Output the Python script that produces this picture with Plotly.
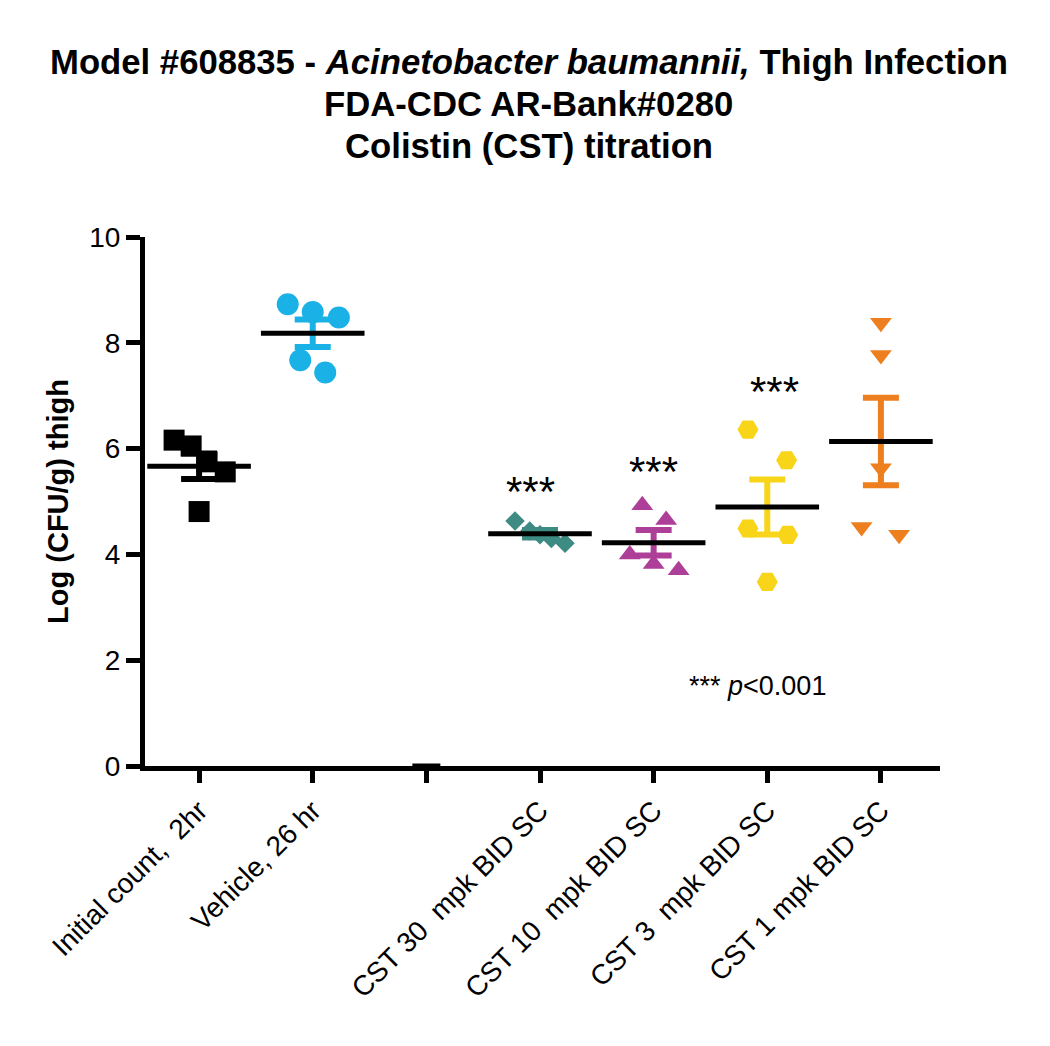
import numpy as np
import plotly.graph_objects as go

# Grupos (el tercero es una columna vacía en el gráfico original)
groups = ["Initial count,\u00a0\u00a02hr", "Vehicle, 26 hr", "",
          "CST 30\u00a0\u00a0mpk BID SC", "CST 10\u00a0\u00a0mpk BID SC",
          "CST 3\u00a0\u00a0mpk BID SC", "CST 1 mpk BID SC"]

initial_2hr = [6.16, 6.05, 5.75, 5.56, 4.81]
vehicle_26hr = [8.73, 8.58, 8.48, 7.67, 7.44]
cst_30 = [4.63, 4.44, 4.37, 4.30, 4.21]
cst_10 = [4.93, 4.65, 4.00, 3.82, 3.70]
cst_3 = [6.36, 5.78, 4.49, 4.37, 3.48]
cst_1 = [8.38, 7.77, 5.63, 4.52, 4.37]
empty_group = [0.0]

title_lines = ["<b>Model #608835 - <i>Acinetobacter baumannii,</i> Thigh Infection</b>",
               "<b>FDA-CDC AR-Bank#0280</b>",
               "<b>Colistin (CST) titration</b>"]

# dispersión horizontal de los puntos (en unidades de columna)
spread = {
    0: [-0.22, -0.07, 0.07, 0.23, 0.0],
    1: [-0.22, 0.0, 0.23, -0.11, 0.11],
    3: [-0.22, -0.09, 0.0, 0.10, 0.22],
    4: [-0.10, 0.11, -0.21, 0.0, 0.22],
    5: [-0.17, 0.17, -0.17, 0.18, 0.0],
    6: [0.0, 0.0, 0.0, -0.17, 0.16],
}

series = [
    (0, initial_2hr, "#000000", "square", 21),
    (1, vehicle_26hr, "#1AB2E6", "circle", 22),
    (3, cst_30, "#3E8B84", "diamond", 15),
    (4, cst_10, "#AE3F98", "triangle-up", 19),
    (5, cst_3, "#F8D519", "hexagon2", 21),
    (6, cst_1, "#EE7F1F", "triangle-down", 19),
]

fig = go.Figure()

for idx, vals, color, symbol, size in series:
    v = np.array(vals)
    xs = [idx + d for d in spread[idx]]
    fig.add_trace(go.Scatter(
        x=xs, y=v, mode="markers",
        marker=dict(symbol=symbol, size=size, color=color, line=dict(width=0)),
        showlegend=False, hoverinfo="y",
    ))
    mean = v.mean()
    sem = v.std(ddof=1) / np.sqrt(len(v))
    fig.add_trace(go.Scatter(
        x=[idx], y=[mean], mode="markers",
        marker=dict(symbol="line-ew", size=74, color="black",
                    line=dict(width=5, color="black")),
        error_y=dict(type="data", array=[sem], color=color, thickness=6, width=18),
        showlegend=False, hoverinfo="y",
    ))

# columna vacía: solo la marca en 0
fig.add_trace(go.Scatter(
    x=[2], y=empty_group, mode="markers",
    marker=dict(symbol="line-ew", size=20, color="black",
                line=dict(width=5, color="black")),
    showlegend=False, hoverinfo="skip",
))

stars = [(3 - 0.08, 5.27), (4, 5.65), (5 + 0.06, 7.16)]
for sx, sy in stars:
    fig.add_annotation(x=sx, y=sy, text="***", showarrow=False,
                       font=dict(size=42, color="black"),
                       yanchor="middle", yshift=-4)

fig.add_annotation(x=4.91, y=1.51, text="*** <i>p</i><0.001", showarrow=False,
                   font=dict(size=27, color="black"))

for line, ty in zip(title_lines, [1.331, 1.251, 1.172]):
    fig.add_annotation(x=0.483, y=ty, xref="paper", yref="paper", text=line,
                       showarrow=False, yanchor="middle",
                       font=dict(size=34.7, color="black"))

fig.update_layout(
    width=1050, height=1046,
    paper_bgcolor="white", plot_bgcolor="white",
    margin=dict(l=137, r=118, t=229, b=288),
    font=dict(family="Liberation Sans", color="black"),
    xaxis=dict(
        range=[-0.476, 6.52], tickmode="array",
        tickvals=list(range(len(groups))), ticktext=groups,
        tickangle=-45, tickfont=dict(size=28),
        showline=True, linewidth=5, linecolor="black",
        ticks="outside", ticklen=12, tickwidth=5, tickcolor="black",
        showgrid=False, zeroline=False,
    ),
    yaxis=dict(
        range=[0, 10], dtick=2, tickfont=dict(size=28),
        showline=True, linewidth=5, linecolor="black",
        ticks="outside", ticklen=14, tickwidth=5, tickcolor="black",
        showgrid=False, zeroline=False,
        title=dict(text="<b>Log (CFU/g) thigh</b>", font=dict(size=29), standoff=14),
    ),
)

fig.write_html("out.html")
